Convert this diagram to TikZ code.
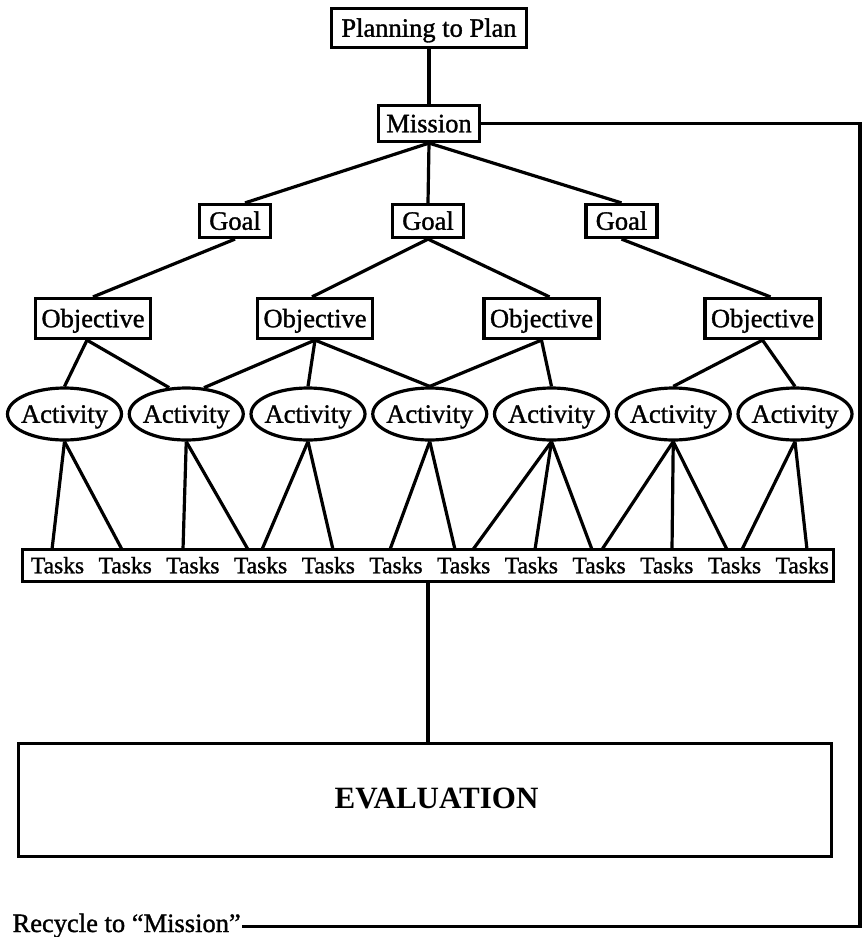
\documentclass[tikz,border=0pt]{standalone}
\usepackage{fontspec}
\setmainfont{Liberation Serif}
\newfontfamily\heavy[FakeBold=1.2]{Liberation Serif}
\usetikzlibrary{shapes.geometric,calc}
\begin{document}
\begin{tikzpicture}[x=1pt,y=-1pt,line width=3.2pt,
  lbl/.style={font=\heavy\fontsize{26.5}{30}\selectfont,text height=17.5pt,text depth=0pt},
  box/.style={draw,rectangle,inner sep=0pt,lbl},
  goalbox/.style={box,minimum width=71pt,minimum height=33pt},
  objbox/.style={box,minimum width=115pt,minimum height=40pt},
  act/.style={draw,ellipse,inner sep=0pt,minimum width=114pt,minimum height=52pt,lbl},
  tk/.style={inner sep=0pt,font=\heavy\fontsize{23.5}{26}\selectfont,text height=15.5pt,text depth=0pt}]
\useasboundingbox (0,0) rectangle (863,937);

% top
\node[box,minimum width=195pt,minimum height=39pt] (plan) at (429,28) {Planning to Plan};
\node[box,minimum width=101pt,minimum height=36pt] (mission) at (429,123.5) {Mission};

% goals
\node[goalbox] (g1) at (235,221) {Goal};
\node[goalbox] (g2) at (428,221) {Goal};
\node[goalbox] (g3) at (621.5,221) {Goal};

% objectives
\node[objbox] (o1) at (93,318.5) {Objective};
\node[objbox] (o2) at (315,318.5) {Objective};
\node[objbox] (o3) at (541.5,318.5) {Objective};
\node[objbox] (o4) at (762.5,318.5) {Objective};

% activities
\foreach \i/\x in {1/64.5,2/186.25,3/308,4/429.75,5/551.5,6/673.25,7/795}
  \node[act] (a\i) at (\x,414) {\makebox[0pt][c]{Activity}};

% tasks
\node[draw,rectangle,inner sep=0pt,minimum width=811pt,minimum height=32pt] (tasks) at (428,565.5) {};
\foreach \i in {1,...,12}
  \node[tk] (t\i) at ({57.5+67.7*(\i-1)},565.5) {Tasks};

% connection points on the tasks box
\foreach \n/\x in {p1/52,p2/122,p3/183,p4/248,p5/262,p6/333,p7/390,p8/455,
                   p9/473,p10/535,p11/592,p12/602,p13/672,p14/727,p15/742,p16/807}
  \coordinate (\n) at (\x,549.5);

% evaluation
\node[draw,rectangle,inner sep=0pt,minimum width=813pt,minimum height=113pt] (eval) at (425,800) {};
\node[inner sep=0pt,font=\bfseries\fontsize{31}{34}\selectfont,text height=20.5pt,text depth=0pt] (evaltext) at (436.5,798) {EVALUATION};

% recycle
\node[anchor=base west,inner sep=0pt,font=\heavy\fontsize{26.5}{30}\selectfont] (recycle) at (11,932) {Recycle to “Mission”};
\coordinate (c1) at (860,123.5);
\coordinate (c2) at (860,926.5);

% connectors
\draw (plan) -- (mission);
\draw (mission.south) -- ($(g1.north)+(10,0)$);
\draw (mission.south) -- (g2.north);
\draw (mission.south) -- (g3.north);

\draw (g1.south) -- (o1.north);
\draw (g2.south) -- ($(o2.north)+(-3,0)$);
\draw (g2.south) -- ($(o3.north)+(8,0)$);
\draw (g3.south) -- ($(o4.north)+(8,0)$);

\draw ($(o1.south)+(-6,0)$) -- (a1.north);
\draw ($(o1.south)+(-6,0)$) -- (a2.123.5);
\draw (o2.south) -- (a2.56.5);
\draw (o2.south) -- (a3.north);
\draw (o2.south) -- (a4.north);
\draw (o3.south) -- (a4.north);
\draw (o3.south) -- (a5.north);
\draw (o4.south) -- (a6.north);
\draw (o4.south) -- (a7.north);

\draw (a1.south) -- (p1);
\draw (a1.south) -- (p2);
\draw (a2.south) -- (p3);
\draw (a2.south) -- (p4);
\draw (a3.south) -- (p5);
\draw (a3.south) -- (p6);
\draw (a4.south) -- (p7);
\draw (a4.south) -- (p8);
\draw (a5.south) -- (p9);
\draw (a5.south) -- (p10);
\draw (a5.south) -- (p11);
\draw (a6.south) -- (p12);
\draw (a6.south) -- (p13);
\draw (a6.south) -- (p14);
\draw (a7.south) -- (p15);
\draw (a7.south) -- (p16);

\draw (tasks.south) -- (tasks.south |- eval.north);
\draw (mission.east) -- (c1) -- (c2) -- (c2 -| recycle.east);
\end{tikzpicture}
\end{document}
